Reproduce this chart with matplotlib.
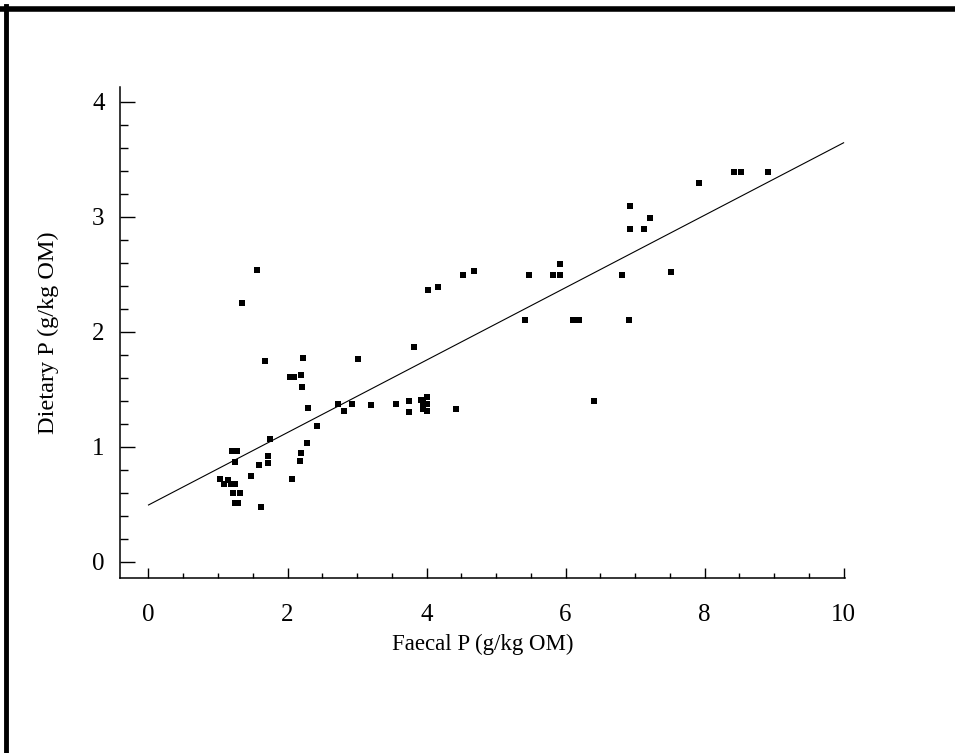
import matplotlib
matplotlib.use("Agg")
import matplotlib.pyplot as plt
from matplotlib.lines import Line2D
from matplotlib.ticker import MultipleLocator

faecal_p = [1.56, 1.34, 1.68, 2.22, 3.01, 2.03, 2.09, 2.19, 2.21, 2.30,
            2.73, 2.81, 2.93, 3.20, 2.42, 1.75, 2.28, 2.19, 2.18, 1.72,
            1.72, 1.59, 1.47, 2.06, 1.20, 1.28, 1.25, 1.03, 1.08, 1.14,
            1.18, 1.25, 1.22, 1.31, 1.24, 1.29, 1.62, 3.82, 4.02, 4.17,
            4.52, 4.68, 5.47, 5.82, 5.92, 5.92, 5.42, 6.11, 6.20, 3.56,
            3.75, 3.75, 3.92, 4.00, 3.95, 4.01, 3.95, 4.01, 4.42, 8.42,
            8.52, 8.91, 7.92, 6.93, 7.22, 6.93, 7.13, 6.81, 7.51, 6.91,
            6.41]
dietary_p = [2.54, 2.25, 1.745, 1.775, 1.765, 1.606, 1.606, 1.626, 1.524, 1.339,
             1.376, 1.313, 1.376, 1.365, 1.185, 1.067, 1.035, 0.945, 0.876, 0.92,
             0.86, 0.843, 0.75, 0.72, 0.968, 0.968, 0.873, 0.72, 0.678, 0.713,
             0.678, 0.678, 0.597, 0.597, 0.51, 0.51, 0.476, 1.872, 2.368, 2.39,
             2.496, 2.533, 2.496, 2.496, 2.496, 2.594, 2.10, 2.10, 2.10, 1.377,
             1.40, 1.30, 1.41, 1.435, 1.38, 1.37, 1.33, 1.31, 1.33, 3.39,
             3.39, 3.39, 3.293, 3.093, 2.989, 2.896, 2.896, 2.496, 2.525, 2.10,
             1.397]
fit_x = [0, 10]
fit_y = [0.495, 3.645]
x_ticks = [0, 2, 4, 6, 8, 10]
y_ticks = [0, 1, 2, 3, 4]
x_label = "Faecal P (g/kg OM)"
y_label = "Dietary P (g/kg OM)"

plt.rcParams['font.family'] = ['Liberation Serif', 'DejaVu Serif']

fig = plt.figure(figsize=(9.55, 7.53), dpi=100)
ax = fig.add_axes([120/955, 175/753, (845-120)/955, (578-87)/753])

ax.plot(faecal_p, dietary_p, 's', color='black', ms=4, mew=0)
ax.plot(fit_x, fit_y, '-', color='black', lw=0.8)

ax.set_xlim(-0.41, 10.02)
ax.set_ylim(-0.14, 4.13)
ax.set_xticks(x_ticks)
ax.set_yticks(y_ticks)
ax.xaxis.set_minor_locator(MultipleLocator(0.5))
ax.yaxis.set_minor_locator(MultipleLocator(0.2))
for s in ['top', 'right']:
    ax.spines[s].set_visible(False)
for s in ['left', 'bottom']:
    ax.spines[s].set_linewidth(1.1)
ax.tick_params(axis='x', which='major', direction='in', length=7, width=1, pad=19, labelsize=18)
ax.tick_params(axis='x', which='minor', direction='in', length=3.5, width=1)
ax.tick_params(axis='y', which='major', direction='in', length=11, width=1, pad=11, labelsize=18)
ax.tick_params(axis='y', which='minor', direction='in', length=6, width=1)
ax.set_xlabel(x_label, fontsize=16.5, labelpad=5)
ax.set_ylabel(y_label, fontsize=17.5, labelpad=24)

# figure frame (top and left edges)
fig.add_artist(Line2D([0.0, 1.0], [1 - 8.5/753, 1 - 8.5/753], transform=fig.transFigure, color='black', lw=4))
fig.add_artist(Line2D([5.5/955, 5.5/955], [0.0, 1 - 6/753], transform=fig.transFigure, color='black', lw=3.5))

fig.savefig("out.png", dpi=100)
